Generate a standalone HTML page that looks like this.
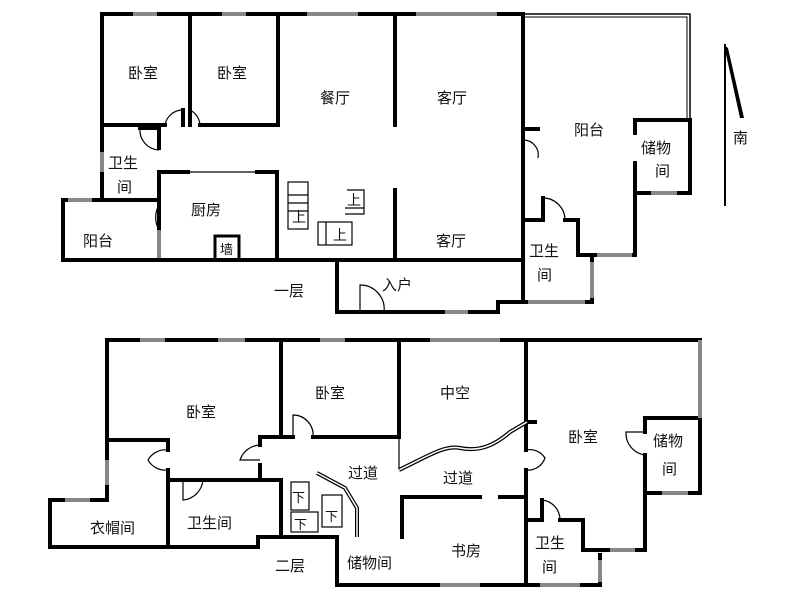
<!DOCTYPE html>
<html><head><meta charset="utf-8"><style>
html,body{margin:0;padding:0;background:#fff;}
svg{display:block;}
text{font-family:"Liberation Sans","Noto Sans CJK SC",sans-serif;font-size:15px;fill:#111;}
.w{stroke:#000;stroke-width:4;fill:none;stroke-linecap:square;}
.t{stroke:#000;stroke-width:1.2;fill:none;}
.win{stroke:#888;stroke-width:4;}
</style></head><body>
<svg width="800" height="600" viewBox="0 0 800 600" xmlns="http://www.w3.org/2000/svg">
<!-- ===== FIRST FLOOR ===== -->
<g class="w">
<polyline points="102,14 523,14"/>
<polyline points="102,14 102,200"/>
<polyline points="190,14 190,125"/>
<polyline points="278,14 278,125 200,125"/>
<polyline points="102,125 165,125"/>
<line x1="183" y1="110" x2="183" y2="125"/>
<line x1="190" y1="110" x2="190" y2="125"/>
<polyline points="159,128 159,148"/>
<polyline points="159,172 159,260"/>
<polyline points="140,128 159,128"/>
<polyline points="63,200 159,200"/>
<polyline points="63,200 63,260 523,260"/>
<polyline points="159,172 188,172"/>
<polyline points="257,172 277,172 277,260"/>
<line x1="395" y1="14" x2="395" y2="125"/>
<line x1="395" y1="190" x2="395" y2="260"/>
<polyline points="523,14 523,302 498,302 498,312 337,312 337,260"/>
<line x1="523" y1="129" x2="538" y2="129"/>
<polyline points="523,220 543,220 543,198"/>
<polyline points="565,220 578,220 578,255 635,255 635,163"/>
<polyline points="635,133 635,120 690,120 690,193 635,193"/>
<polyline points="523,302 592,302 592,255"/>
<line x1="725" y1="45" x2="725" y2="205" style="stroke-width:2"/>
</g>
<line x1="188" y1="172" x2="257" y2="172" class="t"/>
<polyline points="523,14 690,14 690,118" fill="none" stroke="#000" stroke-width="1.5"/>
<polyline points="523,17 687,17 687,118" fill="none" stroke="#000" stroke-width="1"/>
<polygon points="724,45 728,48 744,118 740,118" fill="#000"/>
<g class="win"><line x1="133" y1="14" x2="157" y2="14"/><line x1="222" y1="14" x2="246" y2="14"/><line x1="307" y1="14" x2="358" y2="14"/><line x1="416" y1="14" x2="497" y2="14"/><line x1="102" y1="152" x2="102" y2="172"/><line x1="68" y1="200" x2="92" y2="200"/><line x1="159" y1="230" x2="159" y2="258"/><line x1="445" y1="312" x2="468" y2="312"/><line x1="592" y1="262" x2="592" y2="298"/><line x1="528" y1="302" x2="585" y2="302"/><line x1="597" y1="255" x2="632" y2="255"/><line x1="651" y1="193" x2="677" y2="193"/></g>
<g class="t">
<path d="M165,125 A18,18 0 0 1 183,110"/><path d="M200,125 A18,18 0 0 0 190,110 L190,125"/>
<path d="M140,128 A20,20 0 0 0 159,150"/>
<path d="M159,205 A25,25 0 0 0 159,230"/>
<path d="M523,140 A15,15 0 0 1 538,158"/>
<path d="M543,198 A22,22 0 0 1 565,220"/>
<path d="M360,312 L360,285 A24,24 0 0 1 384,312"/>
<rect x="215" y="236" width="24" height="24" style="stroke-width:3"/>
<rect x="288" y="182" width="20" height="47"/><line x1="288" y1="195" x2="308" y2="195"/><line x1="288" y1="203" x2="308" y2="203"/><line x1="288" y1="211" x2="308" y2="211"/>
<rect x="318" y="222" width="34" height="23"/><line x1="326" y1="222" x2="326" y2="245"/>
<path d="M347,190 L364,190 L364,214 L345,214"/><line x1="345" y1="208" x2="364" y2="208"/>
</g>
<!-- ===== SECOND FLOOR ===== -->
<g class="w">
<polyline points="107,340 700,340"/>
<polyline points="645,432 645,418 700,418 700,493 645,493"/>
<polyline points="645,455 645,550 583,550 583,520 560,520"/>
<polyline points="542,500 542,520 526,520"/>
<polyline points="600,555 600,585 337,585 337,537 258,537 258,547 50,547 50,500 107,500 107,340"/>
<polyline points="107,440 168,440 168,450"/>
<polyline points="168,470 168,547"/>
<polyline points="180,480 281,480 281,537"/>
<line x1="168" y1="480" x2="180" y2="480"/>
<polyline points="281,340 281,437"/>
<polyline points="260,437 293,437"/><polyline points="313,437 399,437"/>
<line x1="260" y1="437" x2="260" y2="445"/><line x1="260" y1="465" x2="260" y2="480"/>
<line x1="399" y1="340" x2="399" y2="437"/>
<line x1="526" y1="340" x2="526" y2="450"/><line x1="526" y1="470" x2="526" y2="585"/>
<line x1="526" y1="422" x2="535" y2="422"/>
<polyline points="402,537 402,497 480,497"/><line x1="500" y1="497" x2="526" y2="497"/>
</g>
<line x1="399" y1="437" x2="399" y2="470" class="t"/>
<path d="M399,470 C430,455 445,445 460,448 C480,452 495,445 510,432 L527,422" fill="none" stroke="#000" stroke-width="4"/>
<path d="M399,470 C430,455 445,445 460,448 C480,452 495,445 510,432 L527,422" fill="none" stroke="#fff" stroke-width="1.5"/>
<path d="M317,473 L345,488 L357,508 L357,537" fill="none" stroke="#000" stroke-width="4"/>
<path d="M317,473 L345,488 L357,508 L357,537" fill="none" stroke="#fff" stroke-width="1.5"/>
<line x1="700" y1="340" x2="700" y2="418" stroke="#888" stroke-width="4"/>
<g class="win"><line x1="140" y1="340" x2="165" y2="340"/><line x1="218" y1="340" x2="245" y2="340"/><line x1="320" y1="340" x2="345" y2="340"/><line x1="430" y1="340" x2="500" y2="340"/><line x1="107" y1="460" x2="107" y2="485"/><line x1="65" y1="500" x2="90" y2="500"/><line x1="440" y1="585" x2="480" y2="585"/><line x1="540" y1="585" x2="580" y2="585"/><line x1="600" y1="560" x2="600" y2="582"/><line x1="610" y1="550" x2="635" y2="550"/><line x1="662" y1="493" x2="688" y2="493"/></g>
<g class="t">
<path d="M168,450 A20,20 0 0 0 148,460 A20,20 0 0 0 168,470"/>
<path d="M183,480 L183,500 A22,22 0 0 0 203,480"/>
<path d="M260,445 A22,22 0 0 0 240,460 L260,460"/>
<path d="M293,437 L293,415 A20,20 0 0 1 313,437"/>
<path d="M526,450 A18,18 0 0 1 545,458 A18,18 0 0 1 526,470"/>
<path d="M645,432 L626,432 A22,22 0 0 0 645,455"/>
<path d="M542,500 A20,20 0 0 1 560,520"/>
<rect x="291" y="482" width="18" height="28"/><rect x="291" y="512" width="27" height="20"/><rect x="322" y="495" width="20" height="32"/>
</g>
<text x="128" y="78">卧室</text><text x="217" y="78">卧室</text><text x="320" y="103">餐厅</text><text x="437" y="103">客厅</text>
<text x="108" y="168">卫生</text><text x="117" y="192">间</text><text x="191" y="215">厨房</text><text x="83" y="246">阳台</text>
<text x="220" y="254" style="font-size:13px">墙</text>
<text x="292" y="222" style="font-size:14px">上</text><text x="333" y="240" style="font-size:14px">上</text><text x="347" y="205" style="font-size:14px">上</text>
<text x="436" y="246">客厅</text><text x="274" y="296">一层</text><text x="382" y="290">入户</text>
<text x="574" y="135">阳台</text><text x="641" y="153">储物</text><text x="655" y="176">间</text>
<text x="529" y="256">卫生</text><text x="537" y="280">间</text><text x="733" y="143">南</text>
<text x="186" y="417">卧室</text><text x="315" y="398">卧室</text><text x="440" y="398">中空</text>
<text x="348" y="478">过道</text><text x="443" y="483">过道</text><text x="568" y="442">卧室</text>
<text x="653" y="446">储物</text><text x="662" y="474">间</text>
<text x="90" y="533">衣帽间</text><text x="187" y="528">卫生间</text>
<text x="292" y="502" style="font-size:13px">下</text><text x="294" y="529" style="font-size:13px">下</text><text x="325" y="521" style="font-size:13px">下</text>
<text x="275" y="571">二层</text><text x="347" y="568">储物间</text><text x="451" y="556">书房</text>
<text x="535" y="548">卫生</text><text x="542" y="572">间</text>
</svg>
</body></html>
